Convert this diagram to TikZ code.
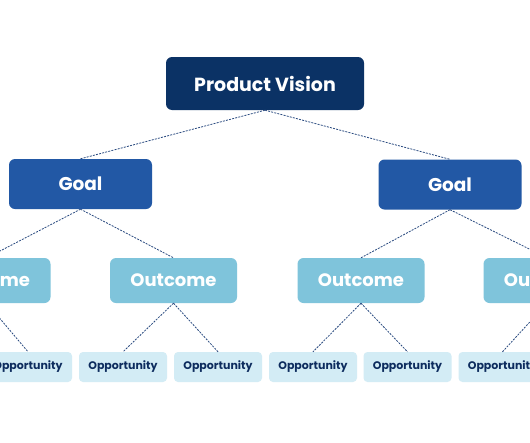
\documentclass[tikz,border=0pt]{standalone}
\usepackage{fontspec}
\setmainfont{Poppins}
\definecolor{visionc}{HTML}{0B3265}
\definecolor{goalc}{HTML}{2258A5}
\definecolor{outc}{HTML}{7FC4DB}
\definecolor{oppc}{HTML}{D3ECF5}
\definecolor{opptext}{HTML}{0D2C5E}
\definecolor{linec}{HTML}{2A4A80}
\begin{document}
\begin{tikzpicture}[x=1pt,y=-1pt,
  box/.style={inner sep=0pt, font=\bfseries},
  vision/.style={box, fill=visionc, text=white, rounded corners=6pt, minimum width=198pt, minimum height=53pt, font=\fontsize{19}{22}\selectfont\bfseries},
  goalbox/.style={box, fill=goalc, text=white, rounded corners=6pt, minimum width=143pt, minimum height=50pt, font=\fontsize{18.5}{22}\selectfont\bfseries},
  outbox/.style={box, fill=outc, text=white, rounded corners=6pt, minimum width=127pt, minimum height=45pt, font=\fontsize{18}{21}\selectfont\bfseries},
  oppbox/.style={box, fill=oppc, text=opptext, rounded corners=4pt, minimum width=88pt, minimum height=30pt, font=\fontsize{11}{13}\selectfont\bfseries},
  link/.style={draw=linec, line width=0.8pt, dash pattern=on 2pt off 1.2pt}]
\useasboundingbox (0,0) rectangle (530,442);
\clip (0,0) rectangle (530,442);
\fill[white] (0,0) rectangle (530,442);
\node[vision] (pv) at (265,83.5) {Product Vision};
\node[goalbox] (g1) at (80.5,184) {Goal};
\node[goalbox] (g2) at (450,184.5) {Goal};
\node[outbox] (o1) at (-13,280.5) {Outcome};
\node[outbox] (o2) at (173.5,280.5) {Outcome};
\node[outbox] (o3) at (361,280.5) {Outcome};
\node[outbox] (o4) at (547,280.5) {Outcome};
\node[oppbox] (p1) at (28,367) {Opportunity};
\node[oppbox] (p2) at (123,367) {Opportunity};
\node[oppbox] (p3) at (218,367) {Opportunity};
\node[oppbox] (p4) at (313,367) {Opportunity};
\node[oppbox] (p5) at (407.5,367) {Opportunity};
\node[oppbox] (p6) at (502.5,367) {Opportunity};
\draw[link] (pv.south) -- (g1.north);
\draw[link] (pv.south) -- (g2.north);
\draw[link] (g1.south) -- (o1.north);
\draw[link] (g1.south) -- (o2.north);
\draw[link] (g2.south) -- (o3.north);
\draw[link] (g2.south) -- (o4.north);
\draw[link] (o1.south) -- (p1.north);
\draw[link] (o2.south) -- (p2.north);
\draw[link] (o2.south) -- (p3.north);
\draw[link] (o3.south) -- (p4.north);
\draw[link] (o3.south) -- (p5.north);
\draw[link] (o4.south) -- (p6.north);
\end{tikzpicture}
\end{document}
